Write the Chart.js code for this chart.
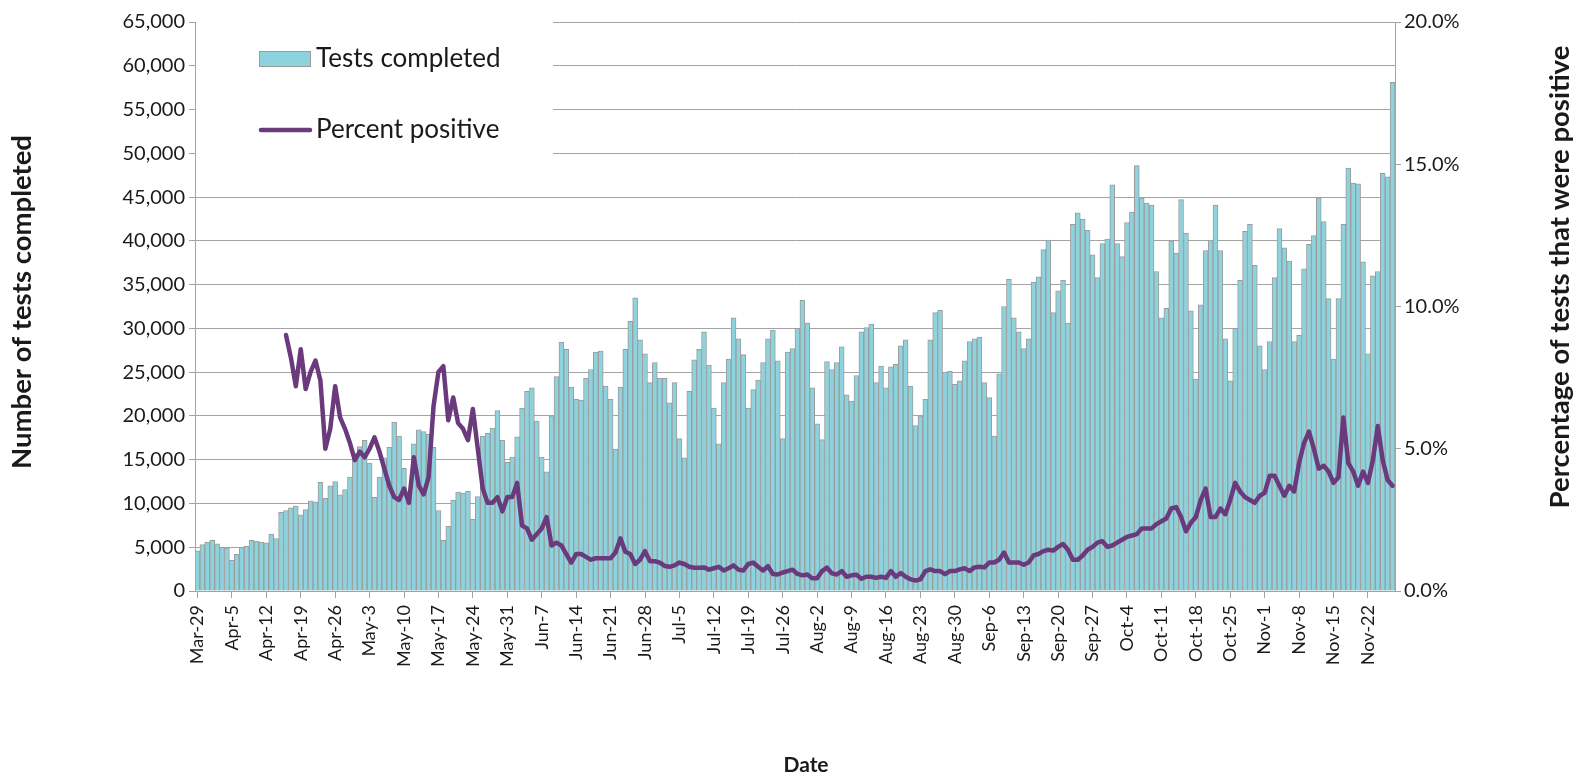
<!DOCTYPE html>
<html>
<head>
<meta charset="utf-8">
<script src="https://cdn.jsdelivr.net/npm/chart.js@4"></script>
<style>
  html, body { margin: 0; padding: 0; background: #ffffff; }
  #wrap { width: 1580px; height: 775px; }
</style>
</head>
<body>
<div id="wrap"><canvas id="c" width="1580" height="775"></canvas></div>
<script>
// ---- categories ----
const startDate = { year: 2020, month: 2, day: 29 }; // Mar-29
const dayCount = 244;
const monthNames = ["Jan","Feb","Mar","Apr","May","Jun","Jul","Aug","Sep","Oct","Nov","Dec"];

// ---- tests completed, by month ----
const testsMar = [4600, 5300, 5600];
const testsApr = [5800, 5400, 5000, 4900, 3500, 4200, 5000, 5100, 5800, 5700,
                  5600, 5500, 6500, 6000, 9000, 9200, 9500, 9700, 8700, 9300,
                  10300, 10200, 12400, 10600, 12000, 12500, 11000, 11600, 13000, 15700];
const testsMay = [16500, 17200, 14600, 10700, 13000, 15200, 16400, 19300, 17700, 14000,
                  10600, 16800, 18400, 18200, 17900, 16400, 9200, 5800, 7400, 10400,
                  11300, 11200, 11400, 8200, 10800, 17700, 18000, 18600, 20600, 17200,
                  14700];
const testsJun = [15300, 17600, 20900, 22800, 23200, 19400, 15300, 13600, 20000, 24500,
                  28400, 27600, 23300, 21900, 21800, 24300, 25300, 27300, 27400, 23400,
                  21900, 16200, 23300, 27600, 30800, 33500, 28700, 27100, 23800, 26100];
const testsJul = [24300, 24300, 21500, 23800, 17400, 15200, 22800, 26400, 27600, 29600,
                  25800, 20900, 16800, 23800, 26500, 31200, 28800, 27000, 20900, 23000,
                  24100, 26100, 28800, 29800, 26300, 17400, 27300, 27700, 30000, 33200,
                  30600];
const testsAug = [23200, 19100, 17300, 26200, 25300, 26100, 27900, 22400, 21700, 24600,
                  29600, 30100, 30500, 23800, 25700, 23200, 25600, 25900, 28000, 28700,
                  23400, 18900, 20000, 21900, 28700, 31800, 32100, 25000, 25100, 23600,
                  24000];
const testsSep = [26300, 28500, 28800, 29000, 23800, 22100, 17700, 24800, 32500, 35600,
                  31200, 29600, 27700, 28800, 35300, 35900, 39000, 40100, 31800, 34300,
                  35500, 30600, 41900, 43200, 42500, 41200, 38400, 35800, 39700, 40200];
const testsOct = [46400, 39700, 38200, 42100, 43300, 48600, 44900, 44300, 44100, 36500,
                  31200, 32300, 40000, 38600, 44700, 40900, 32000, 24200, 32700, 38900,
                  40100, 44100, 38900, 28800, 24000, 30000, 35500, 41100, 41900, 37200,
                  28000];
const testsNov = [25300, 28500, 35800, 41400, 39200, 37700, 28500, 29200, 36800, 39600,
                  40600, 44900, 42200, 33400, 26500, 33400, 41900, 48300, 46600, 46500,
                  37600, 27100, 36000, 36500, 47700, 47300, 58100];

// ---- percent positive, by month ----
const pctMar = [null, null, null];
const pctApr = [null, null, null, null, null, null, null, null, null, null,
                null, null, null, null, null, 9.0, 8.2, 7.2, 8.5, 7.1,
                7.7, 8.1, 7.4, 5.0, 5.7, 7.2, 6.1, 5.7, 5.2, 4.6];
const pctMay = [4.9, 4.7, 5.0, 5.4, 4.9, 4.3, 3.7, 3.3, 3.2, 3.6,
                3.1, 4.7, 3.7, 3.4, 4.0, 6.5, 7.7, 7.9, 6.0, 6.8,
                5.9, 5.7, 5.3, 6.4, 5.0, 3.6, 3.1, 3.1, 3.3, 2.8,
                3.3];
const pctJun = [3.3, 3.8, 2.3, 2.2, 1.8, 2.0, 2.2, 2.6, 1.6, 1.7,
                1.6, 1.3, 1.0, 1.3, 1.3, 1.2, 1.1, 1.15, 1.15, 1.15,
                1.15, 1.35, 1.85, 1.38, 1.3, 0.95, 1.1, 1.4, 1.05, 1.05];
const pctJul = [1.0, 0.88, 0.85, 0.9, 1.0, 0.95, 0.85, 0.82, 0.82, 0.83,
                0.75, 0.8, 0.85, 0.72, 0.8, 0.9, 0.75, 0.72, 0.95, 1.0,
                0.85, 0.72, 0.87, 0.6, 0.58, 0.65, 0.7, 0.75, 0.6, 0.55,
                0.58];
const pctAug = [0.45, 0.45, 0.7, 0.82, 0.62, 0.58, 0.7, 0.5, 0.55, 0.57,
                0.43, 0.5, 0.5, 0.46, 0.5, 0.46, 0.7, 0.5, 0.63, 0.5,
                0.41, 0.37, 0.41, 0.7, 0.76, 0.7, 0.7, 0.59, 0.7, 0.7,
                0.76];
const pctSep = [0.8, 0.7, 0.83, 0.85, 0.83, 1.0, 1.0, 1.1, 1.35, 1.0,
                1.0, 1.0, 0.92, 1.0, 1.25, 1.3, 1.4, 1.45, 1.42, 1.55,
                1.65, 1.45, 1.1, 1.1, 1.25, 1.45, 1.55, 1.7, 1.75, 1.55];
const pctOct = [1.6, 1.7, 1.8, 1.9, 1.95, 2.0, 2.2, 2.2, 2.2, 2.35,
                2.45, 2.55, 2.9, 2.95, 2.6, 2.1, 2.4, 2.6, 3.2, 3.6,
                2.6, 2.6, 2.9, 2.7, 3.2, 3.8, 3.5, 3.3, 3.2, 3.1,
                3.35];
const pctNov = [3.45, 4.05, 4.05, 3.7, 3.35, 3.7, 3.5, 4.5, 5.2, 5.6,
                5.0, 4.3, 4.4, 4.2, 3.8, 4.0, 6.1, 4.5, 4.2, 3.7,
                4.2, 3.8, 4.6, 5.8, 4.6, 3.9, 3.7];

const testsCompleted = [].concat(testsMar, testsApr, testsMay, testsJun, testsJul, testsAug, testsSep, testsOct, testsNov);
const percentPositive = [].concat(pctMar, pctApr, pctMay, pctJun, pctJul, pctAug, pctSep, pctOct, pctNov);

// daily category labels
const categories = [];
for (let i = 0; i < dayCount; i++) {
  const d = new Date(Date.UTC(startDate.year, startDate.month, startDate.day + i));
  categories.push(monthNames[d.getUTCMonth()] + "-" + d.getUTCDate());
}
const tickEvery = 7;

const axisTitles = {
  left: "Number of tests completed",
  right: "Percentage of tests that were positive",
  bottom: "Date"
};

const FONT = "Lato, 'Open Sans', 'Liberation Sans', sans-serif";
const TEXT = "#1a1a1a";
const GRID = "#a3a3a3";
const BAR_FILL = "#8DD3DE";
const BAR_EDGE = "#9c9c9c";
const LINE_COLOR = "#6A3A7C";

const decorPlugin = {
  id: "decor",
  beforeDatasetsDraw(chart) {
    const { ctx, chartArea } = chart;
    ctx.save();
    ctx.fillStyle = "#ffffff";
    ctx.fillRect(chartArea.left + 1, chartArea.top - 2, 553 - chartArea.left - 1, 176 - chartArea.top + 2);
    ctx.restore();
  },
  afterDraw(chart) {
    const { ctx, chartArea } = chart;
    ctx.save();
    // legend: bar swatch
    ctx.fillStyle = BAR_FILL;
    ctx.fillRect(259, 51, 52, 16);
    ctx.strokeStyle = BAR_EDGE;
    ctx.lineWidth = 1;
    ctx.strokeRect(259.5, 51.5, 51, 15);
    // legend: line swatch
    ctx.strokeStyle = LINE_COLOR;
    ctx.lineWidth = 4.5;
    ctx.lineCap = "round";
    ctx.beginPath();
    ctx.moveTo(261, 130);
    ctx.lineTo(310, 130);
    ctx.stroke();
    ctx.fillStyle = TEXT;
    ctx.font = "26px " + FONT;
    ctx.textBaseline = "middle";
    ctx.textAlign = "left";
    ctx.fillText(chart.data.datasets[0].label, 316, 59);
    ctx.fillText(chart.data.datasets[1].label, 316, 130);

    // axis titles
    ctx.textAlign = "center";
    ctx.font = "bold 27.5px " + FONT;
    ctx.save();
    ctx.translate(22, 302);
    ctx.rotate(-Math.PI / 2);
    ctx.fillText(axisTitles.left, 0, 0);
    ctx.restore();
    ctx.save();
    ctx.translate(1560, 277);
    ctx.rotate(-Math.PI / 2);
    ctx.fillText(axisTitles.right, 0, 0);
    ctx.restore();
    ctx.font = "bold 21px " + FONT;
    ctx.fillText(axisTitles.bottom, 806, 765);
    ctx.restore();
  }
};

new Chart(document.getElementById("c"), {
  data: {
    labels: categories,
    datasets: [
      {
        type: "bar",
        label: "Tests completed",
        data: testsCompleted,
        backgroundColor: BAR_FILL,
        borderColor: BAR_EDGE,
        borderWidth: 1,
        borderSkipped: "start",
        barPercentage: 1.0,
        categoryPercentage: 1.0,
        yAxisID: "y",
        order: 2
      },
      {
        type: "line",
        label: "Percent positive",
        data: percentPositive,
        borderColor: LINE_COLOR,
        backgroundColor: LINE_COLOR,
        borderWidth: 4.5,
        pointRadius: 0,
        tension: 0,
        spanGaps: false,
        borderJoinStyle: "round",
        borderCapStyle: "round",
        yAxisID: "y1",
        order: 1
      }
    ]
  },
  options: {
    responsive: false,
    animation: false,
    devicePixelRatio: 1,
    layout: { padding: { top: 22, left: 0, right: 0, bottom: 0 } },
    plugins: { legend: { display: false }, tooltip: { enabled: false } },
    scales: {
      x: {
        type: "category",
        offset: true,
        grid: {
          offset: false,
          drawOnChartArea: false,
          drawTicks: true,
          tickLength: 7,
          color: (c) => (c.index % tickEvery === 0 ? GRID : "rgba(0,0,0,0)")
        },
        border: { color: GRID, width: 1 },
        ticks: {
          autoSkip: false,
          minRotation: 90,
          maxRotation: 90,
          padding: 7,
          color: TEXT,
          font: { family: FONT, size: 18 },
          callback: function (v, i) { return i % tickEvery === 0 ? this.getLabelForValue(v) : ""; }
        },
        title: { display: false },
        afterFit: (s) => { s.height = 184; }
      },
      y: {
        position: "left",
        min: 0,
        max: 65000,
        grid: { color: GRID, drawTicks: true, tickLength: 6, lineWidth: 1 },
        border: { color: GRID, width: 1 },
        ticks: {
          stepSize: 5000,
          padding: 4,
          color: TEXT,
          font: { family: FONT, size: 20 },
          callback: (v) => v.toLocaleString("en-US")
        },
        title: { display: false },
        afterFit: (s) => { s.width = 195; }
      },
      y1: {
        position: "right",
        min: 0,
        max: 20,
        grid: { drawOnChartArea: false, color: GRID, drawTicks: true, tickLength: 6 },
        border: { color: GRID, width: 1 },
        ticks: {
          stepSize: 5,
          padding: 3,
          color: TEXT,
          font: { family: FONT, size: 20 },
          callback: (v) => v.toFixed(1) + "%"
        },
        title: { display: false },
        afterFit: (s) => { s.width = 185; }
      }
    }
  },
  plugins: [decorPlugin]
});
</script>
</body>
</html>
